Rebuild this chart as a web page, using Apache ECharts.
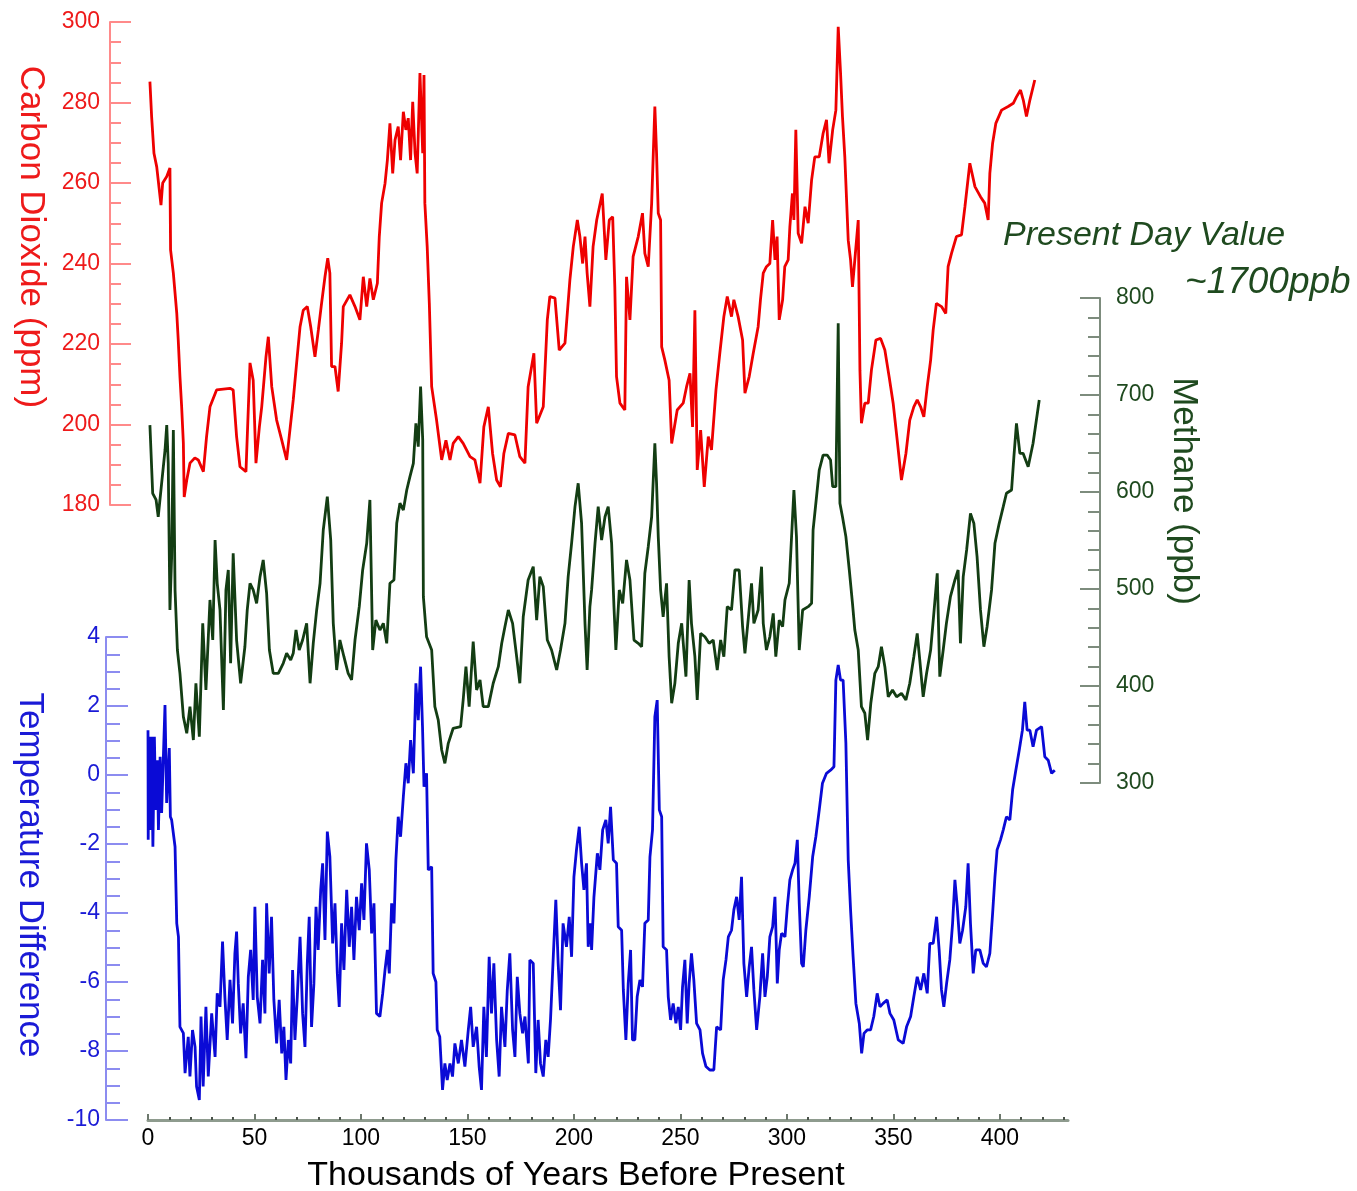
<!DOCTYPE html>
<html>
<head>
<meta charset="utf-8">
<script src="https://cdn.jsdelivr.net/npm/echarts@6/dist/echarts.min.js"></script>
<style>html,body{margin:0;padding:0;background:#fff}#chart{width:1357px;height:1191px}</style>
</head>
<body>
<div id="chart"></div>
<script>
// ---- data: [thousands of years before present, value] ----
const co2Series = [[0.9,285.2],[1.7,276.5],[2.8,267.4],[4.1,264],[6.1,254.5],[6.9,260],[8.8,261.6],[10.3,263.7],[10.6,243.4],[11.9,237.6],[13.5,227.7],[14.2,221],[15,211.9],[15.8,204.4],[16.6,195.4],[17,182],[18.2,186.2],[19.7,190.4],[22,191.7],[23.6,191.2],[26,188.3],[27.5,197],[29.1,204.4],[32.2,208.6],[38.5,209],[40,208.6],[41.6,197],[43.2,189.5],[46,188.3],[47.9,215.3],[49.4,211],[50.7,190.4],[52.3,199.4],[53.4,204.4],[55.4,216.8],[56.5,221.8],[58.1,209.4],[60.4,201.1],[62.8,196.1],[65.1,191.2],[68.2,206.1],[69.8,215.3],[71.4,224.3],[72.9,228.4],[74.8,229.3],[76.4,224.3],[78.4,216.8],[80,223.5],[81.5,230.1],[83.1,236.7],[84.4,241.3],[85.4,237.6],[86.2,214.4],[87.8,214.4],[89.3,208.2],[90.9,220.2],[91.7,229.3],[94.8,232.2],[97.2,229.3],[99.5,226],[101.1,236.7],[102.7,229.3],[104.2,236.3],[105.8,231],[107.7,235.1],[108.6,246.7],[109.7,255],[111.3,259.9],[112.4,265.7],[113.6,274.8],[114.9,262.4],[116,270.7],[117.5,274],[118.6,265.7],[119.9,277.7],[121.1,273.2],[122.2,276.1],[123.3,265.7],[124.3,280.2],[125.4,267.4],[126.4,262.4],[127.7,287.3],[129,267.4],[129.6,286.8],[130,255],[131.1,244.2],[132.1,230.1],[133.2,209.4],[135.5,201.1],[137.9,191.2],[139.9,196.1],[141.8,191.2],[143.3,195.3],[145.7,197],[148,195.3],[151.2,192],[153.5,191.2],[155.9,185.4],[157.7,199.4],[159.8,204.4],[161.8,192.8],[163.7,186.2],[165.5,184.5],[167.1,192.8],[169.2,197.8],[172.3,197.4],[174.6,192],[177,190.4],[178.5,209.4],[181.2,217.7],[182.5,200.3],[185.6,204.4],[187.5,226],[188.7,231.8],[191.1,231.4],[193.1,218.5],[195.8,220.2],[198.1,235.9],[199.7,244.2],[201.6,250.8],[202.8,246.7],[204.1,240],[205.2,246.7],[206.2,237.6],[207.5,229.3],[209,244.2],[210.7,250.8],[213.3,257.4],[215,240.9],[216.6,250.8],[218.2,251.6],[219.2,234.2],[220,211.9],[221.6,205.3],[223.9,203.6],[224.7,236.7],[226.3,226],[227.8,241.7],[230.2,246.7],[232.2,252.5],[233.3,242.5],[234.9,239.2],[236.5,255],[238,279],[238.8,267.4],[239.6,252.5],[240.7,250.8],[241.2,219.3],[242.7,216],[244.7,211],[245.9,195.3],[248.5,203.6],[251.3,205.3],[252.9,209.4],[254.5,212.7],[255.7,199.4],[256.8,228.4],[257.9,188.7],[259.5,198.6],[261.2,184.5],[263.1,197],[264.6,193.7],[266.7,208.6],[268.5,217.7],[270.4,226.8],[272,231.8],[274,226.8],[275.1,231],[277.1,226.8],[279.2,221],[280.3,207.8],[282.3,211.9],[284.2,217.7],[286.5,224.3],[287.6,231],[288.9,237.6],[290.4,239.2],[292,240],[293.3,250.8],[294.4,240.9],[295.4,246.7],[296.4,226],[298,231],[299,239.2],[300.6,240.9],[301.4,249.1],[302.6,257.4],[303.3,250.8],[304.2,273.2],[305.3,247.5],[306.9,245],[308.5,254.1],[310,250],[311.6,260.7],[313.1,266.5],[315.2,266.5],[317,272.3],[318.6,275.7],[319.8,264.9],[321.5,273.2],[323,278.1],[324.1,298.8],[325.2,287.3],[326.1,276.5],[327.2,266.5],[328.8,245.8],[329.9,240.9],[330.8,234.2],[331.9,240.9],[333.5,250.8],[334.3,213.5],[335,200.3],[336.6,205.3],[338.2,205.3],[339.7,213.5],[341.8,221],[344,221.4],[346,218.5],[348,211.9],[349.9,205.3],[351.8,196.1],[353.8,186.2],[355.9,192.8],[357.7,201.1],[359.6,204.4],[361.2,206.1],[362.8,204.4],[364.3,201.9],[365.9,209.4],[367.5,216],[368.7,223.5],[370.2,230.1],[372.6,229.3],[374.6,227.6],[375.7,239.2],[377.3,242.5],[379.6,246.7],[382,247.1],[383.6,254.1],[385.9,264.9],[388.3,259.1],[390.9,256.6],[392.9,255],[394.5,250.8],[395.3,262.4],[396.6,269.9],[398.1,274.8],[400.8,278.1],[403.9,279],[406.3,279.8],[407.8,281.4],[409.7,283.1],[411,280.6],[412.5,276.5],[414.1,280.6],[416.4,285.6]];

const ch4Series = [[0.9,669],[2.2,598.7],[3.8,591.8],[4.8,574.5],[6.4,609],[8,643.3],[8.8,669],[9.5,629.6],[10.3,478.4],[11.1,533.3],[11.9,663.9],[12.7,499],[13.8,437.1],[15,413.1],[16.6,368.4],[18.2,351.3],[19.7,378.7],[21.3,344.3],[22.5,402.8],[24.1,347.7],[25.7,464.6],[27.2,395.9],[29.1,488.7],[30.4,447.4],[31.5,550.5],[32.5,505.9],[33.8,478.4],[35.4,375.3],[36.6,499],[37.7,519.6],[38.8,423.4],[40,536.8],[41.6,447.4],[43.5,402.8],[45.5,440.5],[46.6,478.4],[47.9,505.9],[49.4,499],[51,485.2],[52.6,512.7],[54.1,529.9],[55.7,495.6],[57,437.1],[58.8,413.1],[61.2,413.1],[63.5,423.4],[65.1,433.7],[67,426.8],[68.2,433.7],[69.5,457.7],[71,437.1],[72.6,447.4],[74.5,464.6],[76.1,402.8],[77.6,444],[79.2,478.4],[80.8,505.9],[82.3,560.8],[84.2,595.2],[85.8,550.5],[87,464.6],[88.6,416.5],[90.1,447.4],[92,430.2],[94,413.1],[95.6,406.2],[97.2,447.4],[99.2,481.8],[100.8,519.6],[102.7,547.1],[104.2,591.8],[105.5,437.1],[107,468],[108.9,457.7],[110.5,464.6],[112.1,444],[113.6,505.9],[115.5,509.3],[116.8,567.7],[118.3,588.4],[119.9,581.4],[121.5,602.1],[123,615.8],[124.6,629.6],[125.8,670.8],[126.9,646.7],[128,708.6],[129,653.6],[129.3,492.1],[130.8,450.8],[133.2,437.1],[134.7,378.7],[136.3,364.9],[137.9,334],[139.4,320.3],[141,340.9],[143.3,356.4],[146.8,358],[148,385.6],[149.3,419.9],[150.8,378.7],[152.7,445.7],[154.3,395.9],[155.9,406.2],[157.4,378.7],[159.8,378.7],[162.1,402.8],[164.5,419.9],[166.1,444],[167.6,461.1],[169.2,478.4],[171.2,464.6],[173.1,430.2],[174.6,402.8],[176.2,471.4],[178.5,509.3],[180.9,523],[182.5,468],[184,512.7],[185.6,502.4],[187.5,447.4],[189.5,437.1],[191.9,416.5],[193.7,437.1],[195.8,464.6],[197.3,512.7],[198.9,547.1],[200.5,584.9],[202,609],[203.6,567.7],[205.2,464.6],[206.2,416.5],[207.5,481.8],[208.3,499],[209.9,547.1],[211.4,584.9],[213,550.5],[214.6,574.5],[216.1,584.9],[217.7,547.1],[218.8,481.8],[219.7,437.1],[221.3,499],[222.9,485.2],[224.7,529.9],[226.3,509.3],[228.2,447.4],[230.2,444],[231.8,440.5],[233.3,516.2],[234.9,543.6],[236.5,574.5],[238,650.2],[238.8,609],[239.6,554],[240.7,499],[241.9,471.4],[243.5,505.9],[244.7,430.2],[245.9,382.2],[247.4,402.8],[249,444],[250.6,464.6],[252.6,409.6],[254.1,509.3],[255.2,464.6],[256.8,430.2],[257.9,385.6],[259.5,454.3],[261.5,450.8],[263.5,444],[265.4,447.4],[267.3,416.5],[268.9,447.4],[270.4,430.2],[272,481.8],[274,478.4],[275.6,519.6],[277.6,519.6],[279.2,461.1],[280.3,433.7],[281.8,468],[283.4,505.9],[284.5,464.6],[286.5,478.4],[288.1,523],[288.9,464.6],[290.4,437.1],[292,450.8],[293.6,474.9],[294.8,430.2],[296.4,468],[298,461.1],[299.1,488.7],[301.1,505.9],[302.2,554],[303.3,602.1],[304.5,554],[305.8,437.1],[307.4,478.4],[310,481.8],[311.6,485.2],[312.3,560.8],[313.6,588.4],[315.2,622.7],[317,638.1],[318.9,638.1],[320.5,633],[321.5,605.5],[323,605.5],[324.1,773.9],[324.9,588.4],[326.1,574.5],[327.7,554],[329.3,519.6],[330.8,485.2],[331.9,457.7],[333.5,437.1],[335,378.7],[336.6,371.9],[337.9,344.3],[339.4,382.2],[341.3,413.1],[342.9,419.9],[344.4,440.5],[346,419.9],[347.6,388.9],[349.6,395.9],[351.5,388.9],[353.8,392.5],[355.9,385.6],[357.7,402.8],[359.6,430.2],[361.2,454.3],[362.4,426.8],[364,388.9],[365.6,413.1],[367.5,437.1],[369,474.9],[370.6,516.2],[371.8,409.6],[373.4,437.1],[374.9,464.6],[376.8,492.1],[378.9,509.3],[380.4,519.6],[381.5,444],[382.8,512.7],[384.4,540.2],[386.2,578],[387.8,567.7],[389.3,533.3],[390.9,478.4],[392.5,440.5],[394,461.1],[396.1,499],[397.7,547.1],[399.7,567.7],[401.6,584.9],[403.1,598.7],[405.5,602.1],[406.6,636.4],[407.8,670.8],[409.4,639.9],[410.9,639.9],[413.3,626.1],[415.6,650.2],[418.5,694.8]];

const tempSeries = [[0,1.3],[0.1,-1.88],[0.5,1.11],[1.0,-1.59],[1.7,1.11],[2.3,-2.08],[3.0,1.11],[3.6,-1.01],[4.4,0.43],[4.9,-1.59],[5.7,0.53],[6.4,-1.1],[7.98,2.03],[8.76,-0.81],[10.0,0.78],[10.5,-1.21],[11.1,-1.3],[12.7,-2.08],[13.5,-4.3],[14.3,-4.69],[15.0,-7.3],[16.6,-7.48],[17.4,-8.64],[18.9,-7.59],[19.7,-8.74],[20.9,-7.39],[22.1,-7.88],[22.8,-9.03],[24.1,-9.42],[24.9,-7.0],[25.9,-9.03],[27.2,-6.72],[28.3,-8.74],[29.9,-6.91],[31.5,-8.17],[32.5,-6.33],[33.8,-6.72],[35.0,-4.83],[36.1,-6.43],[37.2,-7.68],[38.5,-5.94],[39.7,-7.2],[40.8,-5.17],[41.6,-4.54],[42.4,-6.04],[43.5,-7.49],[44.7,-6.62],[46.0,-8.21],[47.1,-5.85],[48.2,-5.07],[49.4,-6.52],[50.2,-3.82],[51.3,-6.43],[52.6,-7.2],[53.8,-5.36],[54.9,-6.91],[55.7,-3.72],[56.9,-5.75],[58.0,-4.11],[59.1,-6.52],[60.4,-7.78],[61.6,-6.52],[62.8,-8.07],[63.8,-7.3],[64.8,-8.84],[65.9,-7.68],[67.0,-8.36],[67.9,-5.65],[69.0,-7.68],[70.1,-6.43],[71.4,-4.69],[72.6,-6.91],[73.7,-7.88],[74.8,-5.46],[75.7,-4.11],[76.8,-7.3],[77.9,-6.04],[78.9,-3.82],[79.9,-5.07],[81.1,-3.33],[82.0,-2.56],[83.1,-4.78],[84.2,-1.64],[85.4,-2.37],[86.7,-4.88],[87.8,-3.72],[88.9,-5.75],[89.8,-6.72],[90.9,-4.3],[92.0,-5.65],[93.3,-3.33],[94.5,-4.98],[95.6,-3.82],[96.7,-5.36],[97.9,-3.53],[99.2,-4.5],[100.3,-3.14],[101.4,-4.2],[102.6,-1.98],[103.9,-2.75],[105.0,-4.59],[106.1,-3.72],[107.3,-6.91],[108.9,-7.0],[110.2,-6.33],[111.3,-5.65],[112.4,-5.07],[113.3,-5.75],[114.4,-3.72],[115.5,-4.3],[116.4,-2.46],[117.5,-1.21],[118.6,-1.79],[119.9,-0.63],[121.1,0.34],[122.2,-0.24],[123.3,1.01],[124.6,0.05],[125.8,2.66],[126.9,1.59],[128.0,3.14],[128.9,1.4],[129.6,-0.34],[130.8,0.05],[131.6,-2.75],[133.2,-2.66],[133.9,-5.75],[135.2,-6.0],[135.8,-7.39],[137.0,-7.59],[138.3,-9.13],[139.4,-8.36],[140.5,-8.84],[141.8,-8.36],[143.0,-8.74],[144.1,-7.78],[145.7,-8.36],[147.2,-7.68],[148.8,-8.45],[150.4,-7.39],[151.5,-6.72],[152.7,-7.88],[154.3,-7.3],[155.5,-8.45],[156.6,-9.13],[157.7,-6.72],[158.9,-8.17],[160.2,-5.27],[161.3,-6.91],[162.4,-5.46],[163.7,-7.68],[164.9,-8.74],[166.0,-6.72],[167.6,-7.88],[168.7,-6.24],[169.9,-5.17],[171.2,-7.39],[172.3,-8.17],[173.4,-5.85],[174.6,-6.91],[175.9,-7.49],[177.0,-7.0],[178.6,-8.36],[179.3,-5.36],[180.9,-5.46],[182.1,-8.64],[183.2,-7.1],[184.3,-8.36],[185.6,-8.74],[186.8,-7.68],[187.9,-8.17],[189.0,-7.1],[190.3,-5.27],[191.5,-3.62],[192.6,-5.46],[193.7,-6.82],[194.9,-4.3],[196.5,-4.98],[197.8,-4.11],[198.9,-5.27],[200.0,-2.95],[201.2,-2.17],[202.5,-1.5],[203.6,-2.56],[204.7,-3.33],[205.9,-2.56],[206.7,-4.98],[207.8,-4.3],[208.3,-5.07],[209.4,-3.53],[211.0,-2.27],[212.2,-2.75],[213.5,-1.59],[215.0,-1.3],[216.1,-1.98],[217.2,-0.92],[218.5,-2.46],[220.0,-2.56],[220.8,-4.4],[222.4,-4.5],[223.2,-6.23],[224.4,-7.68],[225.5,-6.04],[226.6,-5.07],[227.5,-7.68],[228.6,-7.68],[229.7,-6.43],[231.0,-5.94],[232.2,-6.14],[233.3,-4.3],[234.9,-4.2],[235.7,-2.37],[236.9,-1.59],[238.0,1.69],[239.1,2.17],[240.1,-1.01],[241.2,-1.21],[241.9,-4.98],[243.5,-5.07],[244.3,-6.43],[245.4,-7.1],[246.6,-6.62],[247.9,-7.2],[249.0,-6.72],[250.1,-7.39],[251.0,-6.14],[252.1,-5.36],[253.2,-7.2],[254.1,-6.04],[255.2,-5.17],[256.3,-5.94],[257.6,-7.2],[259.2,-7.39],[260.4,-8.07],[262.0,-8.45],[263.8,-8.55],[265.7,-8.55],[267.0,-7.3],[268.9,-7.39],[270.1,-5.94],[271.4,-5.36],[272.5,-4.69],[274.0,-4.5],[275.1,-3.91],[276.4,-3.53],[277.6,-4.2],[278.7,-2.95],[279.8,-5.46],[281.1,-6.43],[282.3,-5.56],[283.4,-4.98],[284.5,-6.23],[285.8,-7.39],[287.3,-6.43],[288.6,-5.17],[289.7,-6.43],[290.8,-5.85],[292.0,-4.69],[293.3,-4.4],[294.4,-3.53],[295.5,-6.04],[296.4,-5.07],[297.5,-4.59],[299.1,-4.69],[300.2,-3.82],[301.4,-3.04],[302.7,-2.75],[303.8,-2.56],[304.9,-1.88],[305.8,-3.72],[306.9,-5.46],[307.7,-5.56],[308.9,-4.5],[310.5,-3.53],[312.1,-2.37],[313.6,-1.79],[315.2,-1.01],[316.7,-0.24],[318.6,0.05],[320.5,0.14],[322.1,0.24],[323.0,2.75],[324.1,3.19],[325.2,2.75],[326.4,2.75],[327.7,0.92],[328.8,-2.46],[329.9,-3.91],[331.1,-5.27],[332.4,-6.62],[334.0,-7.2],[335.1,-8.07],[336.2,-7.49],[337.7,-7.39],[339.3,-7.39],[340.8,-7.0],[342.4,-6.33],[343.7,-6.72],[345.2,-6.62],[347.1,-6.52],[348.4,-6.91],[350.2,-7.1],[352.3,-7.68],[354.6,-7.78],[356.2,-7.3],[358.1,-7.0],[359.6,-6.43],[361.2,-5.85],[362.8,-6.23],[364.3,-5.75],[365.9,-6.33],[367.1,-4.88],[368.7,-4.88],[370.3,-4.11],[371.5,-5.07],[372.6,-6.23],[373.7,-6.72],[375.0,-6.04],[376.5,-5.36],[377.8,-4.3],[378.9,-3.04],[380.0,-3.82],[381.2,-4.88],[382.5,-4.5],[384.0,-3.82],[385.1,-2.56],[386.2,-4.3],[387.5,-5.75],[388.7,-5.07],[390.6,-5.07],[392.2,-5.46],[393.7,-5.56],[395.3,-5.17],[396.6,-4.01],[397.7,-2.95],[398.7,-2.17],[400.3,-1.88],[401.6,-1.59],[403.1,-1.21],[404.7,-1.3],[406.0,-0.43],[407.5,0.14],[409.1,0.72],[410.6,1.3],[411.7,2.12],[412.8,1.3],[414.1,1.3],[415.6,0.82],[417.2,1.3],[419.6,1.4],[421.1,0.53],[422.7,0.43],[424.3,0.05],[425.8,0.14]];

// ---- axes ----
const xTickValues = [0,10,20,30,40,50,60,70,80,90,100,110,120,130,140,150,160,170,180,190,200,210,220,230,240,250,260,270,280,290,300,310,320,330,340,350,360,370,380,390,400,410,420,430];
const xLabelValues = [0,50,100,150,200,250,300,350,400];
const xRange = [0, 432];
const co2Range = [180, 300];
const ch4Range = [300, 800];
const tempRange = [-10, 4];

const texts = {
  co2: 'Carbon Dioxide (ppm)',
  ch4: 'Methane (ppb)',
  temp: 'Temperature Difference',
  x: 'Thousands of Years Before Present',
  note1: 'Present Day Value',
  note2: '~1700ppb'
};

const FONT = "'Liberation Sans', Arial, Helvetica, sans-serif";
const LABEL_SIZE = 23;
const C_CO2 = '#ee0000', C_CO2_AX = '#ff8a8a', C_CO2_TX = '#ee1a1a';
const C_CH4 = '#133d13', C_CH4_AX = '#7d8c7d', C_CH4_TX = '#1f4a1f';
const C_T = '#0a0ad6', C_T_AX = '#8c8cf0', C_T_TX = '#1a1ad6';

const chart = echarts.init(document.getElementById('chart'), null, {renderer: 'canvas'});

const gridGeom = {left: 148, width: 920};
function hiddenX(i) {
  return {gridIndex: i, type: 'value', min: xRange[0], max: xRange[1], show: false, axisLine: {onZero: false}};
}
function yAxisDef(i, range, interval, pos, offset, axColor, txColor, tickLen, minorLen, minorSplit, margin) {
  return {
    gridIndex: i, type: 'value', min: range[0], max: range[1], interval: interval,
    position: pos, offset: offset,
    axisLine: {show: true, onZero: false, lineStyle: {color: axColor, width: 2}},
    axisTick: {show: true, inside: true, length: tickLen, lineStyle: {color: axColor, width: 2}},
    minorTick: {show: true, splitNumber: minorSplit, length: minorLen, lineStyle: {color: axColor, width: 2}},
    axisLabel: {color: txColor, fontSize: LABEL_SIZE, fontFamily: FONT, margin: margin},
    splitLine: {show: false}, minorSplitLine: {show: false}
  };
}

const option = {
  animation: false,
  backgroundColor: '#ffffff',
  grid: [
    Object.assign({top: 22, height: 483}, gridGeom),
    Object.assign({top: 298, height: 485}, gridGeom),
    Object.assign({top: 637, height: 483}, gridGeom),
    Object.assign({top: 637, height: 483}, gridGeom)
  ],
  xAxis: [
    hiddenX(0),
    hiddenX(1),
    {
      gridIndex: 2, type: 'value', min: xRange[0], max: xRange[1], position: 'bottom',
      axisLine: {show: true, onZero: false, lineStyle: {color: '#8e9b8e', width: 3}},
      axisTick: {show: true, inside: true, length: 3, customValues: xTickValues, lineStyle: {color: '#4a524a', width: 2}},
      axisLabel: {show: true, customValues: xLabelValues, color: '#000', fontSize: LABEL_SIZE, fontFamily: FONT, margin: 7},
      splitLine: {show: false}
    },
    {
      gridIndex: 3, type: 'value', min: xRange[0], max: xRange[1], position: 'bottom',
      axisLine: {show: false, onZero: false},
      axisTick: {show: true, inside: true, length: 6, customValues: xLabelValues, lineStyle: {color: '#6d786d', width: 2}},
      axisLabel: {show: false},
      splitLine: {show: false}
    }
  ],
  yAxis: [
    yAxisDef(0, co2Range, 20, 'left', 38, C_CO2_AX, C_CO2_TX, 21, 11, 4, 10),
    yAxisDef(1, ch4Range, 100, 'right', 32, C_CH4_AX, C_CH4_TX, 20, 12, 5, 16),
    yAxisDef(2, tempRange, 2, 'left', 42, C_T_AX, C_T_TX, 22, 14, 4, 6),
    {gridIndex: 3, type: 'value', min: tempRange[0], max: tempRange[1], show: false, axisLine: {onZero: false}}
  ],
  series: [
    {type: 'line', name: 'CO2', xAxisIndex: 0, yAxisIndex: 0, data: co2Series, showSymbol: false, symbol: 'none',
     lineStyle: {color: C_CO2, width: 2.8}, z: 3},
    {type: 'line', name: 'CH4', xAxisIndex: 1, yAxisIndex: 1, data: ch4Series, showSymbol: false, symbol: 'none',
     lineStyle: {color: C_CH4, width: 2.8}, z: 4},
    {type: 'line', name: 'Temp', xAxisIndex: 2, yAxisIndex: 2, data: tempSeries, showSymbol: false, symbol: 'none',
     lineStyle: {color: C_T, width: 2.8}, z: 2}
  ],
  graphic: [
    {type: 'text', x: 31, y: 237, rotation: -Math.PI / 2,
     style: {text: texts.co2, fill: C_CO2_TX, font: '35px ' + FONT, textAlign: 'center', textVerticalAlign: 'middle', align: 'center', verticalAlign: 'middle'}},
    {type: 'text', x: 30, y: 875, rotation: -Math.PI / 2,
     style: {text: texts.temp, fill: C_T_TX, font: '35px ' + FONT, textAlign: 'center', textVerticalAlign: 'middle', align: 'center', verticalAlign: 'middle'}},
    {type: 'text', x: 1184, y: 491, rotation: -Math.PI / 2,
     style: {text: texts.ch4, fill: C_CH4_TX, font: '35px ' + FONT, textAlign: 'center', textVerticalAlign: 'middle', align: 'center', verticalAlign: 'middle'}},
    {type: 'text', x: 576, y: 1176,
     style: {text: texts.x, fill: '#000', font: '34px ' + FONT, textAlign: 'center', textVerticalAlign: 'middle', align: 'center', verticalAlign: 'middle'}},
    {type: 'text', x: 1003, y: 236,
     style: {text: texts.note1, fill: C_CH4_TX, font: 'italic 34px ' + FONT, textAlign: 'left', textVerticalAlign: 'middle', align: 'left', verticalAlign: 'middle'}},
    {type: 'text', x: 1185, y: 283,
     style: {text: texts.note2, fill: C_CH4_TX, font: 'italic 37px ' + FONT, textAlign: 'left', textVerticalAlign: 'middle', align: 'left', verticalAlign: 'middle'}}
  ]
};
chart.setOption(option);
</script>
</body>
</html>
